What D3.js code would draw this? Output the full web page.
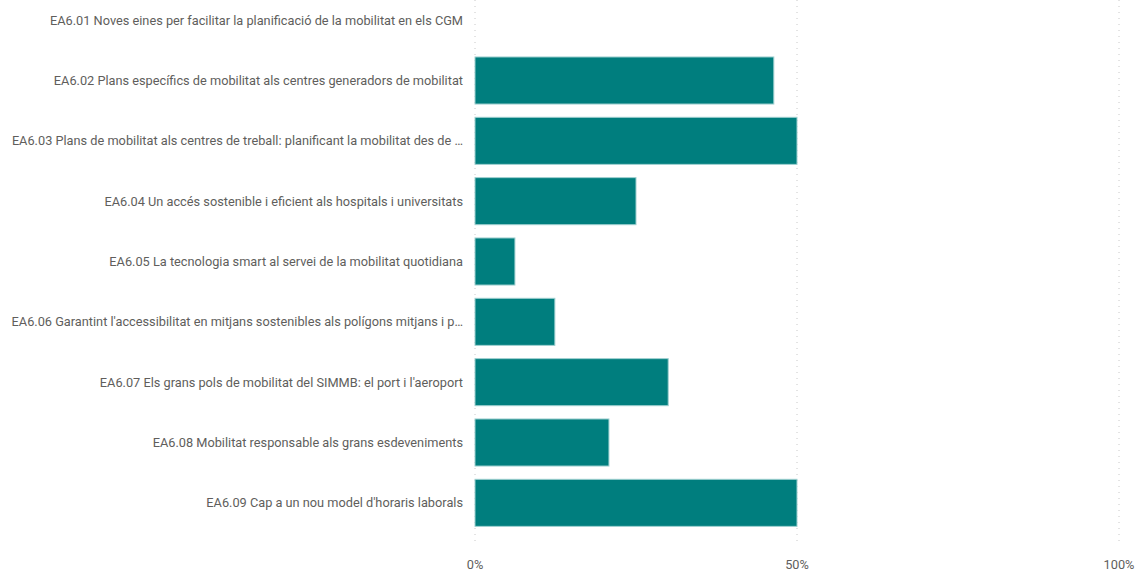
<!DOCTYPE html>
<html><head><meta charset="utf-8">
<script src="https://cdn.jsdelivr.net/npm/d3@7"></script>
<style>
html,body{margin:0;padding:0;background:#fff;}
svg{display:block;}
</style></head>
<body>
<svg id="chart" width="1137" height="572"></svg>
<script>
const categories = [
  "EA6.01 Noves eines per facilitar la planificació de la mobilitat en els CGM",
  "EA6.02 Plans específics de mobilitat als centres generadors de mobilitat",
  "EA6.03 Plans de mobilitat als centres de treball: planificant la mobilitat des de …",
  "EA6.04 Un accés sostenible i eficient als hospitals i universitats",
  "EA6.05 La tecnologia smart al servei de la mobilitat quotidiana",
  "EA6.06 Garantint l'accessibilitat en mitjans sostenibles als polígons mitjans i p…",
  "EA6.07 Els grans pols de mobilitat del SIMMB: el port i l'aeroport",
  "EA6.08 Mobilitat responsable als grans esdeveniments",
  "EA6.09 Cap a un nou model d'horaris laborals"
];
const values = [0, 0.464, 0.50, 0.25, 0.062, 0.124, 0.30, 0.208, 0.50];
const tickValues = [0, 0.5, 1];
const tickLabels = ["0%", "50%", "100%"];

const svg = d3.select("#chart");
const font = "Roboto, sans-serif";
const x = d3.scaleLinear().domain([0, 1]).range([475, 1119]);
const y = d3.scaleBand().domain(categories).range([-10, 533]).paddingInner(0.22).paddingOuter(0.11);

svg.append("g").selectAll("line").data(tickValues).join("line")
  .attr("x1", d => x(d)).attr("x2", d => x(d))
  .attr("y1", 0).attr("y2", 546)
  .attr("stroke", "#c8c8c8").attr("stroke-width", 1)
  .attr("stroke-dasharray", "1,5");

svg.append("g").selectAll("rect").data(values).join("rect")
  .attr("x", x(0))
  .attr("y", (d, i) => y(categories[i]))
  .attr("width", d => x(d) - x(0))
  .attr("height", y.bandwidth())
  .attr("fill", "#007e7e")
  .attr("stroke", d => d > 0 ? "#9fd0d0" : "none")
  .attr("stroke-width", 1);

const labels = svg.append("g").selectAll("text").data(categories).join("text")
  .attr("x", 463)
  .attr("y", d => y(d) + y.bandwidth() / 2)
  .attr("dy", "0.35em")
  .attr("text-anchor", "end")
  .attr("font-family", font)
  .attr("font-size", 12)
  .attr("fill", "#605e5c")
  .text(d => d);

// fit font size so the first label spans ~413px as in the reference
const w0 = labels.node().getComputedTextLength();
const fs = Math.max(10, Math.min(14, 12 * 413 / w0));
labels.attr("font-size", fs);

svg.append("g").selectAll("text").data(tickValues).join("text")
  .attr("x", d => x(d))
  .attr("y", 569)
  .attr("text-anchor", "middle")
  .attr("font-family", font)
  .attr("font-size", fs)
  .attr("fill", "#605e5c")
  .text((d, i) => tickLabels[i]);
</script>
</body></html>
